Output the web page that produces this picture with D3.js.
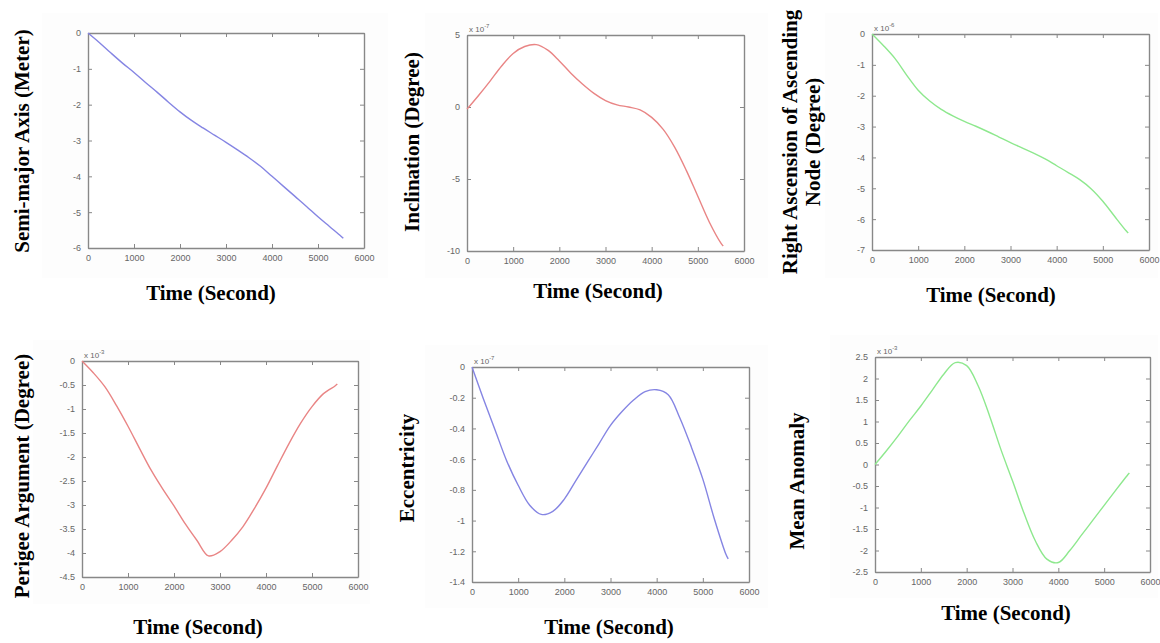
<!DOCTYPE html>
<html>
<head>
<meta charset="utf-8">
<script src="https://cdn.jsdelivr.net/npm/d3@7/dist/d3.min.js"></script>
<style>
  html, body { margin: 0; padding: 0; background: #ffffff; }
  svg { display: block; }
  .tick-label { font-family: Arial, "Liberation Sans", sans-serif; font-size: 9px; fill: #666; }
  .title { font-family: "Times New Roman", "Liberation Serif", serif; font-weight: bold; font-size: 21px; fill: #000; }
</style>
</head>
<body>
<svg id="chart" width="1160" height="643"></svg>
<script>
// ---- data ----
const timeSeconds = [0, 250, 500, 750, 1000, 1250, 1500, 1750, 2000, 2250, 2500, 2750,
  3000, 3250, 3500, 3750, 4000, 4250, 4500, 4750, 5000, 5250, 5500, 5550];

const semiMajorAxis = [0, -0.27, -0.56, -0.84, -1.1, -1.38, -1.65, -1.93, -2.2, -2.44, -2.65, -2.85,
  -3.05, -3.26, -3.48, -3.72, -4.0, -4.28, -4.56, -4.84, -5.13, -5.4, -5.67, -5.73];

const inclination = [-0.15, 0.8, 1.8, 2.85, 3.72, 4.2, 4.33, 3.95, 3.2, 2.35, 1.6, 0.95,
  0.45, 0.15, 0.0, -0.2, -0.72, -1.55, -2.8, -4.4, -6.2, -8.0, -9.45, -9.65];

const raan = [0, -0.38, -0.8, -1.33, -1.82, -2.17, -2.44, -2.65, -2.83, -2.99, -3.16, -3.34,
  -3.52, -3.69, -3.86, -4.05, -4.27, -4.49, -4.72, -5.02, -5.42, -5.9, -6.37, -6.45];

const perigeeArgument = [0, -0.25, -0.54, -0.93, -1.36, -1.82, -2.27, -2.66, -3.02, -3.4, -3.74, -4.06,
  -3.97, -3.74, -3.45, -3.07, -2.65, -2.18, -1.72, -1.3, -0.95, -0.68, -0.52, -0.48];

const eccentricity = [0, -0.21, -0.41, -0.61, -0.77, -0.9, -0.96, -0.94, -0.86, -0.74, -0.62, -0.5,
  -0.38, -0.29, -0.215, -0.16, -0.148, -0.18, -0.33, -0.52, -0.73, -0.99, -1.22, -1.25];

const meanAnomaly = [0, 0.32, 0.66, 1.02, 1.36, 1.73, 2.1, 2.37, 2.3, 1.83, 1.13, 0.34,
  -0.38, -1.13, -1.78, -2.2, -2.28, -2.0, -1.65, -1.3, -0.95, -0.6, -0.26, -0.2];

const xTicks = [0, 1000, 2000, 3000, 4000, 5000, 6000];
const yTicksSemiMajor = [0, -1, -2, -3, -4, -5, -6];
const yTicksInclination = [5, 0, -5, -10];
const yTicksRaan = [0, -1, -2, -3, -4, -5, -6, -7];
const yTicksPerigee = [0, -0.5, -1, -1.5, -2, -2.5, -3, -3.5, -4, -4.5];
const yTicksEccentricity = [0, -0.2, -0.4, -0.6, -0.8, -1, -1.2, -1.4];
const yTicksMeanAnomaly = [2.5, 2, 1.5, 1, 0.5, 0, -0.5, -1, -1.5, -2, -2.5];

const yLabels = ["Semi-major Axis (Meter)", "Inclination (Degree)",
  ["Right Ascension of Ascending", "Node (Degree)"],
  "Perigee Argument (Degree)", "Eccentricity", "Mean Anomaly"];
const xLabel = "Time (Second)";
const exponents = [null, "-7", "-6", "-3", "-7", "-3"];

// ---- layout ----
const svg = d3.select("#chart");
const BLUE = "#8585e3", RED = "#e98585", GREEN = "#8ee88e";

const panels = [
  { values: semiMajorAxis, ticks: yTicksSemiMajor, color: BLUE,
    box: [88, 33, 364, 248], bg: [42, 13, 388, 278],
    ylab: [22, 141], xlab: [211, 300] },
  { values: inclination, ticks: yTicksInclination, color: RED,
    box: [467, 35, 744, 251], bg: [425, 13, 768, 278],
    ylab: [412, 142], xlab: [598, 298] },
  { values: raan, ticks: yTicksRaan, color: GREEN,
    box: [872, 34, 1149, 250], bg: [825, 13, 1158, 278],
    ylab: [801, 142], xlab: [991, 302] },
  { values: perigeeArgument, ticks: yTicksPerigee, color: RED,
    box: [82, 361, 358, 577], bg: [33, 340, 370, 604],
    ylab: [22, 476], xlab: [198, 634] },
  { values: eccentricity, ticks: yTicksEccentricity, color: BLUE,
    box: [472, 367, 749, 582], bg: [425, 345, 768, 608],
    ylab: [407, 468], xlab: [609, 634] },
  { values: meanAnomaly, ticks: yTicksMeanAnomaly, color: GREEN,
    box: [875, 357, 1150, 572], bg: [830, 335, 1158, 598],
    ylab: [797, 481], xlab: [1006, 620] }
];

panels.forEach((p, i) => {
  const [x0, y0, x1, y1] = p.box;
  const g = svg.append("g");

  g.append("rect")
    .attr("x", p.bg[0]).attr("y", p.bg[1])
    .attr("width", p.bg[2] - p.bg[0]).attr("height", p.bg[3] - p.bg[1])
    .attr("fill", "#fdfdfd");
  g.append("rect")
    .attr("x", x0).attr("y", y0).attr("width", x1 - x0).attr("height", y1 - y0)
    .attr("fill", "#ffffff");

  const x = d3.scaleLinear().domain([0, 6000]).range([x0, x1]);
  const yExt = d3.extent(p.ticks);
  const y = d3.scaleLinear().domain(yExt).range([y1, y0]);

  const tickColor = "#888";
  const axB = d3.axisBottom(x).tickValues(xTicks).tickSizeInner(-4).tickSizeOuter(0).tickPadding(7).tickFormat(d3.format("d"));
  const axT = d3.axisTop(x).tickValues(xTicks).tickSizeInner(-4).tickSizeOuter(0).tickFormat("");
  const axL = d3.axisLeft(y).tickValues(p.ticks).tickSizeInner(-4).tickSizeOuter(0).tickPadding(7).tickFormat(d => String(d));
  const axR = d3.axisRight(y).tickValues(p.ticks).tickSizeInner(-4).tickSizeOuter(0).tickFormat("");

  [[axB, `translate(0,${y1})`], [axT, `translate(0,${y0})`], [axL, `translate(${x0},0)`], [axR, `translate(${x1},0)`]]
    .forEach(([ax, tr]) => {
      const a = g.append("g").attr("transform", tr).call(ax);
      a.select(".domain").attr("stroke", tickColor).attr("stroke-width", 1.4);
      a.selectAll(".tick line").attr("stroke", tickColor).attr("stroke-width", 1);
      a.selectAll(".tick text").attr("class", "tick-label").attr("fill", "#666")
        .style("font-family", "Arial, 'Liberation Sans', sans-serif").style("font-size", "9px");
    });

  if (exponents[i]) {
    const t = g.append("text").attr("x", x0 + 2).attr("y", y0 - 3)
      .attr("class", "tick-label").style("font-size", "8px");
    t.append("tspan").text("x 10");
    t.append("tspan").attr("dy", -4).style("font-size", "6px").text(exponents[i]);
  }

  const pts = timeSeconds.map((t, k) => [t, p.values[k]]);
  g.append("path")
    .datum(pts)
    .attr("fill", "none")
    .attr("stroke", p.color)
    .attr("stroke-width", 1.4)
    .attr("d", d3.line().x(d => x(d[0])).y(d => y(d[1])).curve(d3.curveCatmullRom.alpha(0.5)));

  const lab = yLabels[i];
  if (Array.isArray(lab)) {
    lab.forEach((s, k) => {
      g.append("text").attr("class", "title")
        .attr("transform", `translate(${p.ylab[0] - 11 + k * 23},${p.ylab[1]}) rotate(-90)`)
        .attr("text-anchor", "middle").attr("dominant-baseline", "central").text(s);
    });
  } else {
    g.append("text").attr("class", "title")
      .attr("transform", `translate(${p.ylab[0]},${p.ylab[1]}) rotate(-90)`)
      .attr("text-anchor", "middle").attr("dominant-baseline", "central").text(lab);
  }

  g.append("text").attr("class", "title")
    .attr("x", p.xlab[0]).attr("y", p.xlab[1])
    .attr("text-anchor", "middle").text(xLabel);
});
</script>
</body>
</html>
